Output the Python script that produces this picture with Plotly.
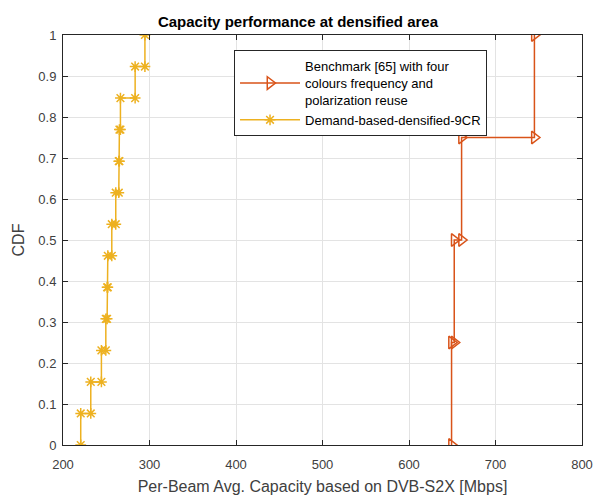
"""Capacity CDF: benchmark vs demand-based densified 9CR."""
import plotly.graph_objects as go

# sorted per-beam capacities (Mbps)
BENCH_X = [649.2, 652.3, 660.8, 745.0]
DEMAND_X = [220.5, 232.1, 244.4, 249.5, 251.0, 251.8, 256.4,
            261.0, 264.5, 265.2, 266.4, 283.4, 294.7]

BENCH_NAME = "Benchmark [65] with four<br>colours frequency and<br>polarization reuse"
DEMAND_NAME = "Demand-based-densified-9CR"

RED = "#D95319"
YELLOW = "#EDB120"
AX = "#262626"


def cdf_vertices(xs):
    # empirical CDF as a stair line, vertex at every corner
    n = len(xs)
    vx, vy = [xs[0]], [0.0]
    for i, x in enumerate(xs):
        if i > 0:
            vx.append(x)
            vy.append(i / n)
        vx.append(x)
        vy.append((i + 1) / n)
    return vx, vy


fig = go.Figure()
bx, by = cdf_vertices(BENCH_X)
fig.add_scatter(x=bx, y=by, name=BENCH_NAME, mode="lines+markers",
                line=dict(color=RED, width=1.5),
                marker=dict(symbol="triangle-right-open", size=11, color=RED,
                            line=dict(width=1.5, color=RED)))
dx, dy = cdf_vertices(DEMAND_X)
fig.add_scatter(x=dx, y=dy, name=DEMAND_NAME, mode="lines+markers",
                line=dict(color=YELLOW, width=1.5),
                marker=dict(symbol="asterisk-open", size=9, color=YELLOW,
                            line=dict(width=1.5, color=YELLOW)))

axis_common = dict(showgrid=True, gridcolor="#e3e3e3", gridwidth=1,
                   showline=True, linecolor=AX, linewidth=1, mirror="ticks",
                   ticks="inside", ticklen=5, tickcolor=AX, zeroline=False,
                   automargin=False, tickfont=dict(size=13, color="#404040"))
fig.update_xaxes(range=[200, 800], dtick=100, ticklabelstandoff=7, **axis_common,
                 title=dict(text="Per-Beam Avg. Capacity based on DVB-S2X [Mbps]",
                            font=dict(size=16, color="#404040"), standoff=10))
fig.update_yaxes(range=[0, 1], dtick=0.1, ticklabelstandoff=3, **axis_common,
                 title=dict(text="CDF", font=dict(size=16, color="#404040"), standoff=9))

fig.update_layout(
    width=596, height=495,
    margin=dict(l=63, r=14, t=35, b=50),
    paper_bgcolor="white", plot_bgcolor="white",
    font=dict(family="Liberation Sans, Arial, sans-serif", color=AX),
    title=dict(text="<b>Capacity performance at densified area</b>",
               x=0.5, xanchor="center", y=0.957, yanchor="middle",
               font=dict(size=15, color="black")),
    legend=dict(x=0.817, xanchor="right", y=0.963, yanchor="top",
                bgcolor="white", bordercolor=AX, borderwidth=1,
                itemwidth=60,
                font=dict(size=13, color="black"), tracegroupgap=0),
)

# browser default body margin would shift the figure
fig.write_html("out.html", config={"displayModeBar": False},
               post_script="document.body.style.margin='0px';")
